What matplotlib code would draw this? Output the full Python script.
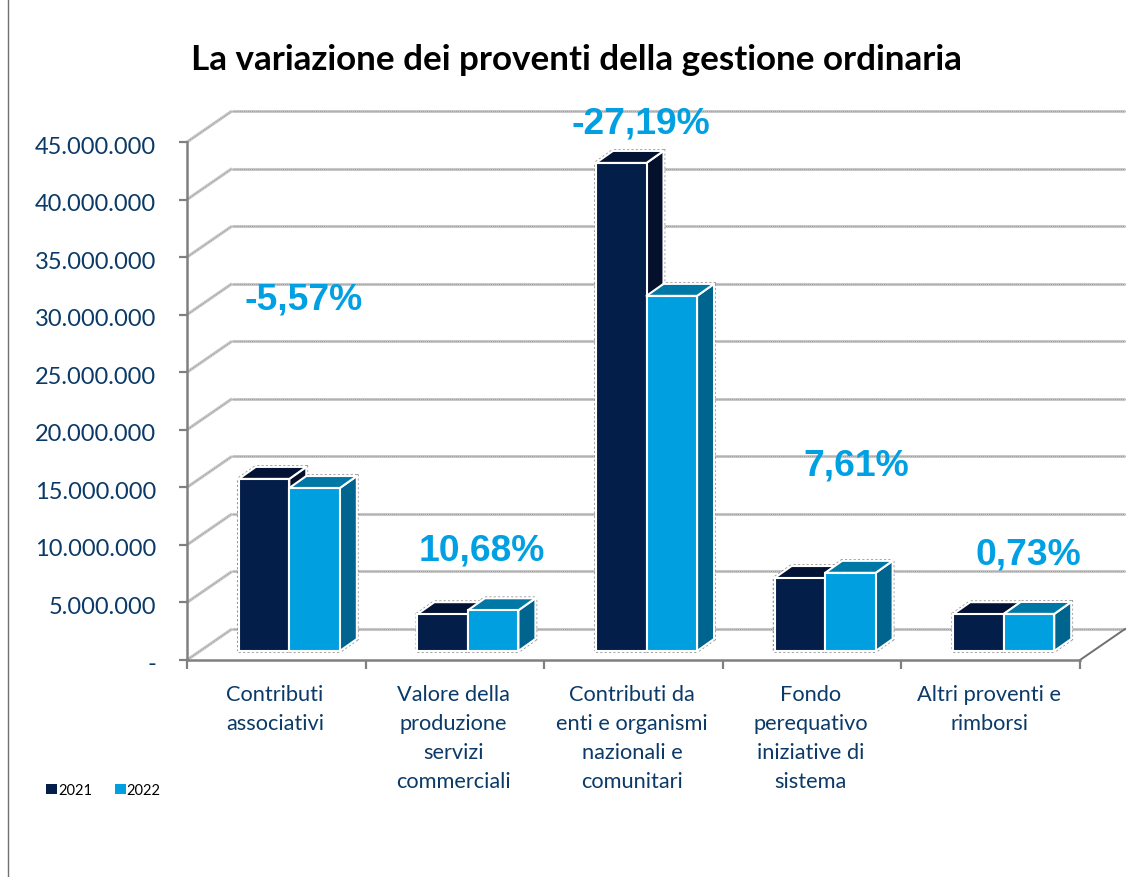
# Variazione dei proventi della gestione ordinaria, pseudo 3D bar chart

import matplotlib
matplotlib.use("Agg")
import matplotlib.pyplot as plt
from matplotlib.patches import Patch
from matplotlib.ticker import FuncFormatter
from matplotlib.transforms import ScaledTranslation

categories = [
    "Contributi\nassociativi",
    "Valore della\nproduzione\nservizi\ncommerciali",
    "Contributi da\nenti e organismi\nnazionali e\ncomunitari",
    "Fondo\nperequativo\niniziative di\nsistema",
    "Altri proventi e\nrimborsi",
]
values_2021 = [14950000, 3200000, 42400000, 6340000, 3200000]
values_2022 = [14160000, 3540000, 30850000, 6790000, 3220000]
variations = ["-5,57%", "10,68%", "-27,19%", "7,61%", "0,73%"]
years = ["2021", "2022"]
y_ticks = [0, 5000000, 10000000, 15000000, 20000000, 25000000, 30000000, 35000000, 40000000, 45000000]

W, H = 1130, 878
X0, X1, Y0, Y45 = 187, 1080, 661, 143
PX_X = (X1 - X0) / 5
PX_Y = (Y0 - Y45) / 45000000
WALL_DX, WALL_DY = 45, 31
BAR_DX, BAR_DY = 13, 9
SIDE_DX, SIDE_DY = 17, 12
BAR_W = 0.283

DARK = ("#041E4A", "#021335", "#04102C")
LIGHT = ("#00A0E0", "#0078A6", "#00658E")
TEXT = "#0B3A68"
PCT = "#00A0E3"


def off(x, y, dx, dy):
    # shift a data point by a pixel offset
    return x + dx / PX_X, y + dy / PX_Y


def grid_line(ax, xs, ys):
    ax.plot(xs, ys, color="#C8C8C8", lw=2.2, zorder=1, clip_on=False, solid_capstyle="butt")
    ax.plot(xs, ys, color="#9A9A9A", lw=0.7, ls=(0, (1, 1)), zorder=1, clip_on=False)


def draw_bar(ax, x, val, cols):
    base = BAR_DY / PX_Y
    left = x + BAR_DX / PX_X
    right = left + BAR_W
    top = val + base
    outline = [off(left, base, 0, 0), off(right, base, 0, 0), off(right, base, SIDE_DX, SIDE_DY),
               off(right, top, SIDE_DX, SIDE_DY), off(left, top, SIDE_DX, SIDE_DY), off(left, top, 0, 0)]
    ax.fill([p[0] for p in outline], [p[1] for p in outline], facecolor="none", edgecolor="#8F8F8F",
            lw=2.6, ls=(0, (0.6, 0.6)), zorder=2, clip_on=False)
    pts_side = [off(right, base, 0, 0), off(right, base, SIDE_DX, SIDE_DY),
                off(right, top, SIDE_DX, SIDE_DY), off(right, top, 0, 0)]
    pts_top = [off(left, top, 0, 0), off(left, top, SIDE_DX, SIDE_DY),
               off(right, top, SIDE_DX, SIDE_DY), off(right, top, 0, 0)]
    for pts, c in ((pts_side, cols[2]), (pts_top, cols[1])):
        ax.fill([p[0] for p in pts], [p[1] for p in pts], facecolor=c, edgecolor="white",
                lw=1.5, zorder=3, clip_on=False, joinstyle="round")
    ax.bar(left, val, BAR_W, bottom=base, align="edge", color=cols[0], edgecolor="white",
           lw=1.5, zorder=3, clip_on=False)


def plot():
    fig = plt.figure(figsize=(W / 100, H / 100), dpi=100)
    ax = fig.add_axes([X0 / W, 1 - Y0 / H, (X1 - X0) / W, (Y0 - Y45) / H])
    ax.set_xlim(0, 5)
    ax.set_ylim(0, 45000000)
    for s in ("top", "right"):
        ax.spines[s].set_visible(False)
    for s in ("left", "bottom"):
        ax.spines[s].set_color("#808080")
        ax.spines[s].set_linewidth(1.8)

    # walls
    for v in y_ticks:
        xa, ya = off(0, v, WALL_DX, WALL_DY)
        xb, yb = off(5, v, WALL_DX, WALL_DY)
        grid_line(ax, [0, xa], [v, ya])
        grid_line(ax, [xa, xb], [ya, yb])
    xa, ya = off(5, 0, WALL_DX, WALL_DY)
    ax.plot([5, xa], [0, ya], color="#707070", lw=1.4, zorder=1, clip_on=False)

    # bars
    for i in range(len(categories)):
        draw_bar(ax, i + 0.5 - BAR_W, values_2021[i], DARK)
        draw_bar(ax, i + 0.5, values_2022[i], LIGHT)

    # axes text
    ax.set_yticks(y_ticks)
    ax.yaxis.set_major_formatter(FuncFormatter(
        lambda v, _: "-" if v == 0 else f"{int(v):,}".replace(",", ".")))
    ax.tick_params(axis="y", length=5.8, width=1.6, color="#808080", labelsize=17,
                   labelcolor=TEXT, pad=16.5)
    ax.set_xticks(range(6))
    ax.set_xticklabels([])
    ax.tick_params(axis="x", which="major", length=6.5, width=1.6, color="#808080")
    ax.set_xticks([i + 0.5 for i in range(5)], minor=True)
    ax.set_xticklabels(categories, minor=True, fontsize=15.7, color=TEXT, linespacing=1.55)
    ax.tick_params(axis="x", which="minor", length=0, pad=17.5)
    down = ScaledTranslation(0, -2 / 100, fig.dpi_scale_trans)
    left = ScaledTranslation(-1.5 / 100, 0, fig.dpi_scale_trans)
    for lab in ax.get_yticklabels():
        lab.set_fontfamily("Lato")
        lab.set_transform(lab.get_transform() + down)
    for lab in ax.get_xticklabels(minor=True):
        lab.set_fontfamily("Lato")
        lab.set_transform(lab.get_transform() + left)

    fig.text(576 / W, 1 - 60 / H, "La variazione dei proventi della gestione ordinaria",
             fontsize=25.2, fontweight="bold", family="Lato", color="black",
             ha="center", va="center")

    pct_pos = [(304, 300), (482, 551), (641, 124), (856, 466), (1028, 555)]
    for (px, py), label in zip(pct_pos, variations):
        fig.text(px / W, 1 - py / H, label, fontsize=26.8, fontweight="bold",
                 family="Liberation Sans", color=PCT, ha="center", va="center", zorder=5)

    handles = [Patch(facecolor=DARK[0], label=years[0]), Patch(facecolor=LIGHT[0], label=years[1])]
    fig.legend(handles=handles, loc="center left", bbox_to_anchor=(42 / W, 1 - 791 / H),
               ncol=2, frameon=False, prop={"family": "Lato", "size": 10.5},
               handlelength=0.75, handleheight=0.75, handletextpad=0.05, columnspacing=1.55,
               borderpad=0.3, borderaxespad=0)

    # page border on the left
    fig.add_artist(plt.Line2D([8 / W, 8 / W], [0, 1], color="#707070", lw=1.0))

    fig.savefig("out.png", dpi=100)


if __name__ == "__main__":
    plot()
